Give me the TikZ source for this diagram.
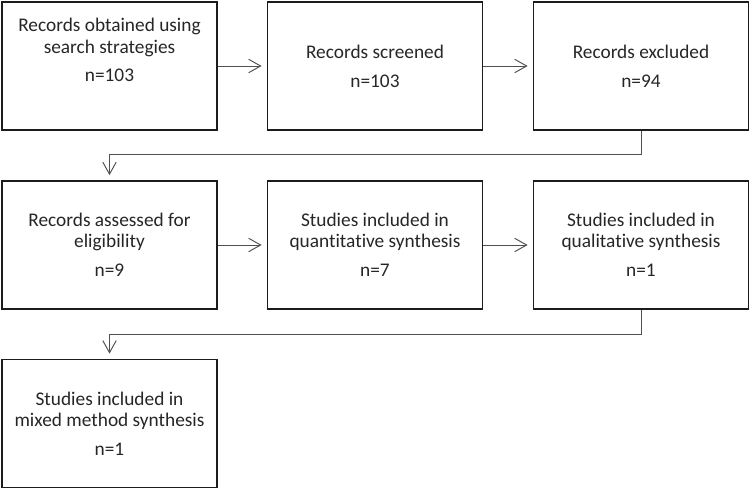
\documentclass[tikz,border=0pt]{standalone}
\usepackage{fontspec}
\setmainfont{Carlito}[Ligatures=NoCommon]
\usetikzlibrary{arrows.meta,positioning}

\definecolor{boxline}{HTML}{1C1C1C}
\definecolor{linkline}{HTML}{505050}

\begin{document}
\begin{tikzpicture}[
  x=0.02cm, y=0.02cm,
  stagebox/.style={
    draw=boxline, line width=1.1pt, minimum width=4.3cm, minimum height=2.56cm,
    align=center, font=\fontsize{11}{12}\selectfont, text=black!85, inner sep=2pt,
  },
  link/.style={-{Straight Barb[length=6.8pt, width=7.6pt, line width=0.55pt]},
    draw=linkline, line width=0.55pt, shorten >=2.8pt},
]
\useasboundingbox (0,0) rectangle (750,490);

% Row 1 -- searching and screening
\node[stagebox] (found) at (109.5,424)
  {Records obtained using\\search strategies\\[4.4pt]n=103\\[6pt]\mbox{}};
\node[stagebox] (screened) at (375,424) {Records screened\\[4.4pt]n=103};
\node[stagebox] (excluded) at (641,424) {Records excluded\\[4.4pt]n=94};

% Row 2 -- eligibility and synthesis
\node[stagebox] (assessed) at (109.5,245)
  {Records assessed for\\eligibility\\[4.4pt]n=9};
\node[stagebox] (quant) at (375,245)
  {Studies included in\\quantitative synthesis\\[4.4pt]n=7};
\node[stagebox] (qual) at (641,245)
  {Studies included in\\qualitative synthesis\\[4.4pt]n=1};

% Row 3 -- mixed method
\node[stagebox] (mixed) at (109.5,66.5)
  {Studies included in\\mixed method synthesis\\[4.4pt]n=1};

% Connectors
\draw[link] (found) -- (screened);
\draw[link] (screened) -- (excluded);
\draw[link] (excluded.south) -- ++(0,-24) -| (assessed.north);
\draw[link] (assessed) -- (quant);
\draw[link] (quant) -- (qual);
\draw[link] (qual.south) -- ++(0,-25) -| (mixed.north);

\end{tikzpicture}
\end{document}
